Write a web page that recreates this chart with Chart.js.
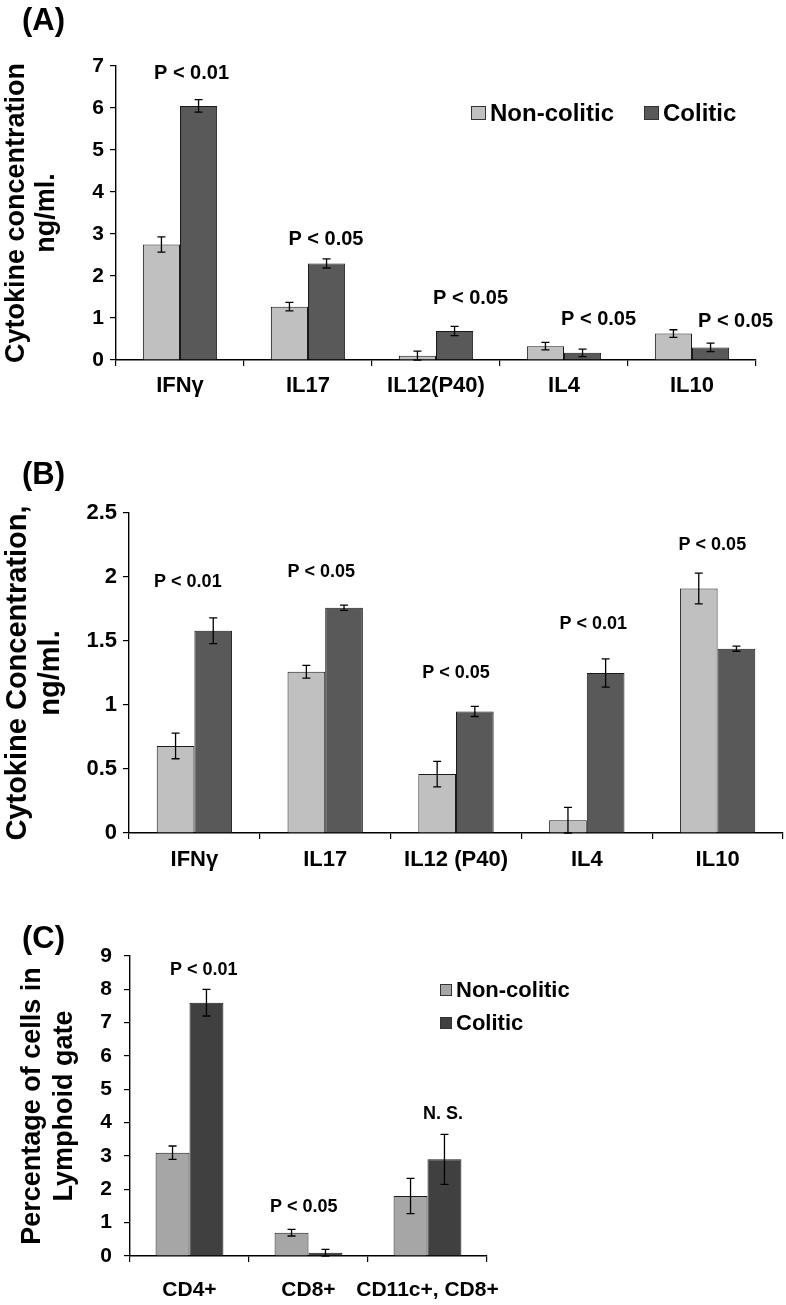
<!DOCTYPE html>
<html>
<head>
<meta charset="utf-8">
<script src="https://cdn.jsdelivr.net/npm/chart.js@4.4.1/dist/chart.umd.min.js"></script>
<style>
  html, body { margin: 0; padding: 0; background: #fff; }
  #wrap { position: relative; width: 786px; height: 1305px; overflow: hidden; }
  .panel { position: absolute; left: 0; width: 786px; }
</style>
</head>
<body>
<div id="wrap">
  <div class="panel" style="top:0px"><canvas id="chartA" width="786" height="420"></canvas></div>
  <div class="panel" style="top:440px"><canvas id="chartB" width="786" height="440"></canvas></div>
  <div class="panel" style="top:900px"><canvas id="chartC" width="786" height="405"></canvas></div>
</div>
<script>
// ===== Cytokine / cell-percentage bar charts (A, B, C) =====

// --- (A) cytokine concentration ---
const categoriesA = ['IFNγ', 'IL17', 'IL12(P40)', 'IL4', 'IL10'];
const nonColiticA = [2.75, 1.27, 0.10, 0.33, 0.63];
const nonColiticErrA = [0.18, 0.10, 0.11, 0.09, 0.09];
const coliticA = [6.05, 2.30, 0.69, 0.17, 0.30];
const coliticErrA = [0.15, 0.11, 0.11, 0.09, 0.10];
const pLabelsA = ['P < 0.01', 'P < 0.05', 'P < 0.05', 'P < 0.05', 'P < 0.05'];
const yTicksA = ['0', '1', '2', '3', '4', '5', '6', '7'];

// --- (B) cytokine concentration ---
const categoriesB = ['IFNγ', 'IL17', 'IL12 (P40)', 'IL4', 'IL10'];
const nonColiticB = [0.68, 1.26, 0.46, 0.10, 1.91];
const nonColiticErrB = [0.10, 0.05, 0.10, 0.10, 0.12];
const coliticB = [1.58, 1.76, 0.95, 1.25, 1.44];
const coliticErrB = [0.10, 0.02, 0.04, 0.11, 0.02];
const pLabelsB = ['P < 0.01', 'P < 0.05', 'P < 0.05', 'P < 0.01', 'P < 0.05'];
const yTicksB = ['0', '0.5', '1', '1.5', '2', '2.5'];

// --- (C) percentage of cells ---
const categoriesC = ['CD4+', 'CD8+', 'CD11c+, CD8+'];
const nonColiticC = [3.1, 0.7, 1.8];
const nonColiticErrC = [0.2, 0.1, 0.53];
const coliticC = [7.6, 0.1, 2.9];
const coliticErrC = [0.4, 0.1, 0.75];
const pLabelsC = ['P < 0.01', 'P < 0.05', 'N. S.'];
const yTicksC = ['0', '1', '2', '3', '4', '5', '6', '7', '8', '9'];

const seriesNames = ['Non-colitic', 'Colitic'];

const FONT = "'Liberation Sans', Arial, Helvetica, sans-serif";
Chart.defaults.font.family = FONT;
Chart.defaults.font.weight = 'bold';
Chart.defaults.color = '#000';

// error bars, p-value notes, legend and panel tag drawn on top of the bars
function makeExtras(cfg) {
  return {
    id: 'extras' + cfg.tag.replace(/\W/g, ''),
    afterDatasetsDraw(chart) {
      const ctx = chart.ctx;
      const xs = chart.scales.x, ys = chart.scales.y;
      ctx.save();
      ctx.strokeStyle = '#000';
      ctx.lineWidth = 1.3;
      chart.data.datasets.forEach((ds, di) => {
        chart.getDatasetMeta(di).data.forEach((bar, i) => {
          const v = ds.data[i], e = cfg.errors[di][i];
          const top = ys.getPixelForValue(v + e);
          const bot = ys.getPixelForValue(Math.max(0, v - e));
          ctx.beginPath();
          ctx.moveTo(bar.x, top); ctx.lineTo(bar.x, bot);
          ctx.moveTo(bar.x - cfg.cap, top); ctx.lineTo(bar.x + cfg.cap, top);
          ctx.moveTo(bar.x - cfg.cap, bot); ctx.lineTo(bar.x + cfg.cap, bot);
          ctx.stroke();
        });
      });

      // p-values above each group
      const catW = (xs.right - xs.left) / chart.data.labels.length;
      ctx.fillStyle = '#000';
      ctx.font = 'bold ' + cfg.pFont + 'px ' + FONT;
      ctx.textAlign = 'center';
      ctx.textBaseline = 'middle';
      cfg.notes.forEach((t, i) => {
        ctx.fillText(t, xs.getPixelForValue(i) + cfg.noteDx[i] * catW, ys.getPixelForValue(cfg.noteY[i]));
      });

      // legend
      if (cfg.legend) {
        const lg = cfg.legend;
        ctx.font = 'bold ' + lg.font + 'px ' + FONT;
        ctx.textAlign = 'left';
        let lx = lg.x, ly = lg.y;
        chart.data.datasets.forEach((ds) => {
          ctx.fillStyle = ds.backgroundColor;
          ctx.fillRect(lx, ly - lg.boxH / 2, lg.boxW, lg.boxH);
          ctx.lineWidth = 1;
          ctx.strokeStyle = '#333';
          ctx.strokeRect(lx + 0.5, ly - lg.boxH / 2 + 0.5, lg.boxW - 1, lg.boxH - 1);
          ctx.fillStyle = '#000';
          ctx.fillText(ds.label, lx + lg.boxW + 4, ly + 1);
          if (lg.row) lx += lg.boxW + 4 + ctx.measureText(ds.label).width + lg.gap;
          else ly += lg.gap;
        });
      }

      // panel tag
      ctx.font = 'bold ' + cfg.tagFont + 'px ' + FONT;
      ctx.textAlign = 'left';
      ctx.fillStyle = '#000';
      ctx.fillText(cfg.tag, cfg.tagX, cfg.tagY);
      ctx.restore();
    }
  };
}

function makePanel(id, d, lay) {
  const ctx = document.getElementById(id);
  return new Chart(ctx, {
    type: 'bar',
    data: {
      labels: d.categories,
      datasets: [
        { label: seriesNames[0], data: d.non, backgroundColor: lay.colors[0], borderColor: '#1a1a1a', borderWidth: 1,
          barPercentage: 1.0, categoryPercentage: lay.catPct },
        { label: seriesNames[1], data: d.col, backgroundColor: lay.colors[1], borderColor: '#1a1a1a', borderWidth: 1,
          barPercentage: 1.0, categoryPercentage: lay.catPct }
      ]
    },
    options: {
      responsive: false,
      animation: false,
      layout: { padding: { top: lay.top, right: lay.right, left: 0, bottom: 0 } },
      plugins: { legend: { display: false }, tooltip: { enabled: false } },
      scales: {
        x: {
          border: { color: '#000', width: 1.4 },
          grid: { drawOnChartArea: false, drawTicks: true, tickLength: 6, color: '#000', lineWidth: 1.2 },
          ticks: { font: { size: lay.catFont, weight: 'bold' }, padding: lay.catPad, color: '#000', maxRotation: 0, autoSkip: false },
          afterFit: (s) => { s.height = lay.xAxisH; }
        },
        y: {
          min: 0, max: lay.yMax,
          border: { color: '#000', width: 1.4 },
          grid: { drawOnChartArea: false, drawTicks: true, tickLength: 6, color: '#000', lineWidth: 1.2 },
          ticks: {
            stepSize: lay.yStep, font: { size: lay.tickFont, weight: 'bold' }, padding: lay.tickPad, color: '#000',
            callback: (v, i) => d.yTicks[i]
          },
          title: {
            display: true, text: lay.yTitle, color: '#000',
            font: { size: lay.titleFont, weight: 'bold', lineHeight: lay.titleLH },
            padding: { top: lay.titlePad, bottom: 0 }
          },
          afterFit: (s) => { s.width = lay.left; }
        }
      }
    },
    plugins: [makeExtras({
      tag: lay.tag, tagX: lay.tagX, tagY: lay.tagY, tagFont: 31,
      errors: [d.nonErr, d.colErr], cap: 4,
      notes: d.notes, noteY: lay.noteY, noteDx: lay.noteDx, pFont: lay.pFont,
      legend: lay.legend
    })]
  });
}

makePanel('chartA',
  { categories: categoriesA, non: nonColiticA, nonErr: nonColiticErrA, col: coliticA, colErr: coliticErrA,
    notes: pLabelsA, yTicks: yTicksA },
  { tag: '(A)', tagX: 22, tagY: 21, top: 66, right: 30, left: 116, xAxisH: 60, yMax: 7, yStep: 1,
    colors: ['#c0c0c0', '#595959'], catPct: 0.58,
    catFont: 22, catPad: 7, tickFont: 21, tickPad: 6,
    yTitle: ['Cytokine concentration', 'ng/ml.'], titleFont: 27, titleLH: 1.11, titlePad: 2,
    pFont: 20, noteY: [6.81, 2.87, 1.47, 0.97, 0.91], noteDx: [0.09, 0.14, 0.27, 0.27, 0.34],
    legend: { x: 471, y: 113, boxW: 15, boxH: 14, font: 24, gap: 30, row: true } });

makePanel('chartB',
  { categories: categoriesB, non: nonColiticB, nonErr: nonColiticErrB, col: coliticB, colErr: coliticErrB,
    notes: pLabelsB, yTicks: yTicksB },
  { tag: '(B)', tagX: 22, tagY: 35, top: 73, right: 3, left: 129, xAxisH: 47, yMax: 2.5, yStep: 0.5,
    colors: ['#c0c0c0', '#595959'], catPct: 0.576,
    catFont: 22, catPad: 8, tickFont: 22, tickPad: 6,
    yTitle: ['Cytokine Concentration,', 'ng/ml.'], titleFont: 29, titleLH: 1.12, titlePad: 2,
    pFont: 18, noteY: [1.96, 2.04, 1.25, 1.63, 2.25], noteDx: [-0.05, -0.03, 0, 0.05, -0.04],
    legend: null });

makePanel('chartC',
  { categories: categoriesC, non: nonColiticC, nonErr: nonColiticErrC, col: coliticC, colErr: coliticErrC,
    notes: pLabelsC, yTicks: yTicksC },
  { tag: '(C)', tagX: 22, tagY: 39, top: 56, right: 299, left: 130, xAxisH: 49, yMax: 9, yStep: 1,
    colors: ['#a6a6a6', '#404040'], catPct: 0.57,
    catFont: 21, catPad: 16, tickFont: 21, tickPad: 12,
    yTitle: ['Percentage of cells in', 'Lymphoid gate'], titleFont: 27, titleLH: 1.19, titlePad: 16,
    pFont: 18, noteY: [8.57, 1.46, 4.26], noteDx: [0.12, -0.04, 0.13],
    legend: { x: 440, y: 90, boxW: 12, boxH: 12, font: 22, gap: 33, row: false } });
</script>
</body>
</html>
